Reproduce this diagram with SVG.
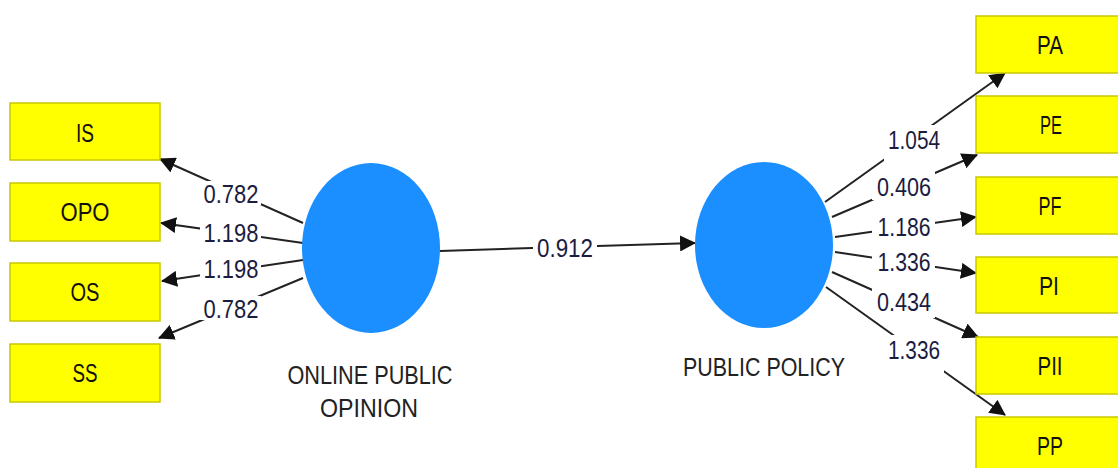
<svg xmlns="http://www.w3.org/2000/svg" width="1118" height="468" viewBox="0 0 1118 468">
<style>
.box{fill:#ffff00;stroke:#c8c800;stroke-width:1.5}
.bt{font-family:"Liberation Sans",Arial,sans-serif;font-size:25px;fill:#111;text-anchor:middle}
.lv{fill:#1b8fff}
.lt{font-family:"Liberation Sans",Arial,sans-serif;font-size:26px;fill:#222;text-anchor:middle}
.ln{stroke:#222;stroke-width:2;fill:none;marker-end:url(#ah)}
.num{font-family:"Liberation Sans",Arial,sans-serif;font-size:26px;fill:#1c1c40;text-anchor:middle}
.bg{fill:#fff}
</style>
<defs>
<marker id="ah" markerUnits="userSpaceOnUse" markerWidth="16" markerHeight="16" viewBox="0 0 16 16" refX="15" refY="8" orient="auto">
<path d="M0,0 L16,8 L0,16 Z" fill="#111"/>
</marker>
</defs>
<g id="connectors">
<line class="ln" x1="303" y1="223" x2="160" y2="159"/>
<line class="ln" x1="303" y1="243" x2="161" y2="223"/>
<line class="ln" x1="303" y1="260" x2="162" y2="281"/>
<line class="ln" x1="303" y1="278" x2="159" y2="338"/>
<line class="ln" x1="440" y1="251" x2="695" y2="243"/>
<line class="ln" x1="825" y1="202" x2="1005" y2="73"/>
<line class="ln" x1="832" y1="217" x2="977" y2="155"/>
<line class="ln" x1="835" y1="237" x2="976" y2="217"/>
<line class="ln" x1="835" y1="252" x2="976" y2="273"/>
<line class="ln" x1="832" y1="272" x2="978" y2="337"/>
<line class="ln" x1="826" y1="287" x2="1005" y2="415"/>
<rect class="bg" x="200" y="181" width="61" height="24"/>
<text class="num" x="231" y="203" textLength="55" lengthAdjust="spacingAndGlyphs">0.782</text>
<rect class="bg" x="200" y="221" width="61" height="23"/>
<text class="num" x="231" y="242" textLength="55" lengthAdjust="spacingAndGlyphs">1.198</text>
<rect class="bg" x="200" y="256" width="61" height="23"/>
<text class="num" x="231" y="278" textLength="55" lengthAdjust="spacingAndGlyphs">1.198</text>
<rect class="bg" x="200" y="296" width="61" height="24"/>
<text class="num" x="231" y="318" textLength="55" lengthAdjust="spacingAndGlyphs">0.782</text>
<rect class="bg" x="533" y="234" width="64" height="25"/>
<text class="num" x="565" y="257" textLength="56" lengthAdjust="spacingAndGlyphs">0.912</text>
<rect class="bg" x="884" y="125" width="60" height="37"/>
<text class="num" x="914" y="149" textLength="52" lengthAdjust="spacingAndGlyphs">1.054</text>
<rect class="bg" x="872" y="172" width="63" height="28"/>
<text class="num" x="904" y="196" textLength="54" lengthAdjust="spacingAndGlyphs">0.406</text>
<rect class="bg" x="872" y="213" width="63" height="24"/>
<text class="num" x="904" y="236" textLength="53" lengthAdjust="spacingAndGlyphs">1.186</text>
<rect class="bg" x="872" y="249" width="63" height="23"/>
<text class="num" x="904" y="271" textLength="53" lengthAdjust="spacingAndGlyphs">1.336</text>
<rect class="bg" x="872" y="286" width="63" height="32"/>
<text class="num" x="904" y="311" textLength="54" lengthAdjust="spacingAndGlyphs">0.434</text>
<rect class="bg" x="884" y="335" width="60" height="40"/>
<text class="num" x="914" y="359" textLength="52" lengthAdjust="spacingAndGlyphs">1.336</text>
</g>
<g id="IS"><rect class="box" x="10" y="103" width="150" height="57"/><text class="bt" x="85" y="142" textLength="18" lengthAdjust="spacingAndGlyphs">IS</text></g>
<g id="OPO"><rect class="box" x="10" y="183" width="150" height="58"/><text class="bt" x="85" y="221" textLength="49" lengthAdjust="spacingAndGlyphs">OPO</text></g>
<g id="OS"><rect class="box" x="10" y="263" width="150" height="58"/><text class="bt" x="85" y="301" textLength="29" lengthAdjust="spacingAndGlyphs">OS</text></g>
<g id="SS"><rect class="box" x="10" y="344" width="150" height="58"/><text class="bt" x="85" y="382" textLength="25" lengthAdjust="spacingAndGlyphs">SS</text></g>
<g id="ONLINE_PUBLIC_OPINION">
<ellipse class="lv" cx="371" cy="248" rx="69" ry="85"/>
<text class="lt" x="370" y="384" textLength="165" lengthAdjust="spacingAndGlyphs">ONLINE PUBLIC</text>
<text class="lt" x="369" y="417" textLength="98" lengthAdjust="spacingAndGlyphs">OPINION</text>
</g>
<g id="PUBLIC_POLICY">
<ellipse class="lv" cx="764" cy="245" rx="69" ry="83"/>
<text class="lt" x="764" y="376" textLength="162" lengthAdjust="spacingAndGlyphs">PUBLIC POLICY</text>
</g>
<g id="PA"><rect class="box" x="976" y="16" width="150" height="57"/><text class="bt" x="1050" y="54" textLength="26" lengthAdjust="spacingAndGlyphs">PA</text></g>
<g id="PE"><rect class="box" x="976" y="96" width="150" height="57"/><text class="bt" x="1051" y="134" textLength="22" lengthAdjust="spacingAndGlyphs">PE</text></g>
<g id="PF"><rect class="box" x="976" y="177" width="150" height="57"/><text class="bt" x="1050" y="215" textLength="23" lengthAdjust="spacingAndGlyphs">PF</text></g>
<g id="PI"><rect class="box" x="976" y="257" width="150" height="56"/><text class="bt" x="1049" y="295" textLength="20" lengthAdjust="spacingAndGlyphs">PI</text></g>
<g id="PII"><rect class="box" x="976" y="337" width="150" height="57"/><text class="bt" x="1050" y="375" textLength="25" lengthAdjust="spacingAndGlyphs">PII</text></g>
<g id="PP"><rect class="box" x="976" y="417" width="150" height="57"/><text class="bt" x="1050" y="455" textLength="26" lengthAdjust="spacingAndGlyphs">PP</text></g>
</svg>
